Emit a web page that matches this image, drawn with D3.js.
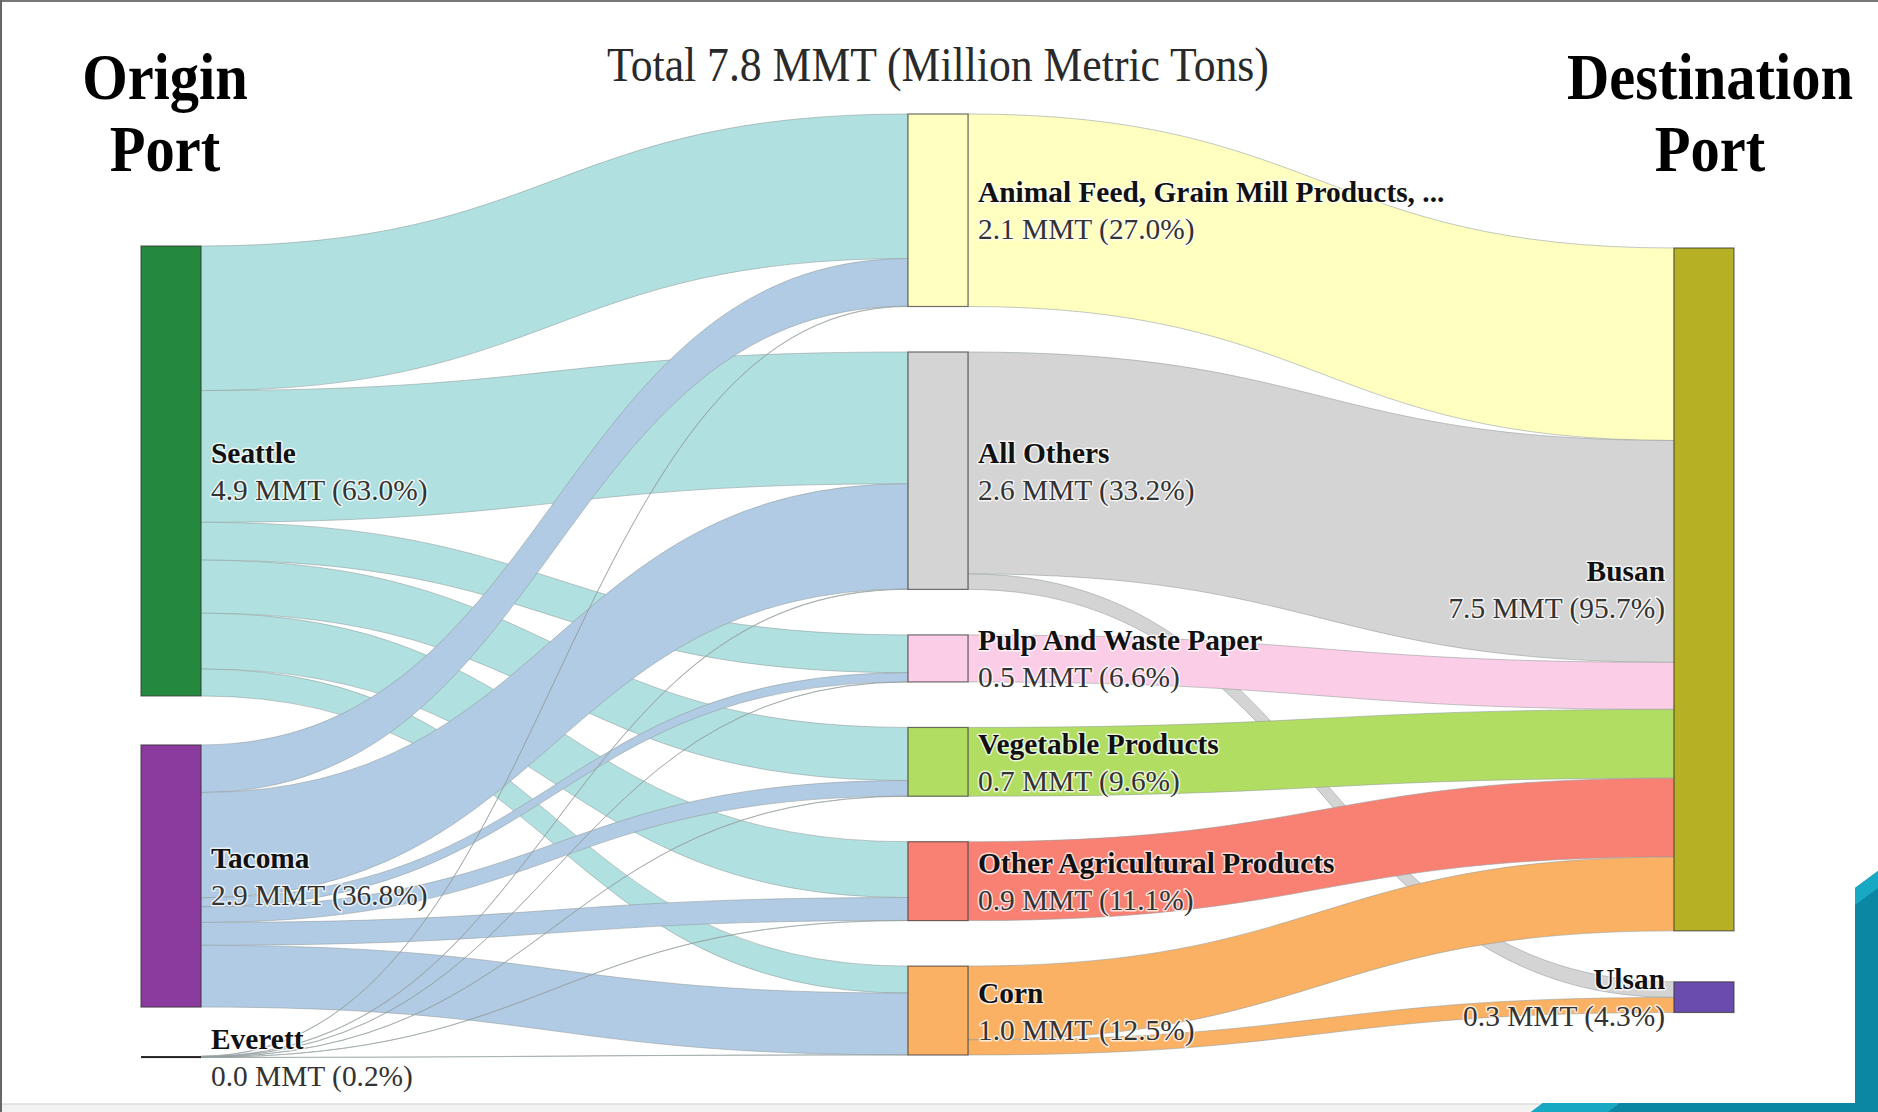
<!DOCTYPE html>
<html>
<head>
<meta charset="utf-8">
<script src="https://cdn.jsdelivr.net/npm/d3@7"></script>
<style>
  body { margin: 0; background: #fff; }
  svg { display: block; }
</style>
</head>
<body>
<div id="chart"></div>
<script>
// ---- data (MMT = million metric tons) ----
const origins = ["Seattle", "Tacoma", "Everett"];
const products = ["Animal Feed, Grain Mill Products, ...", "All Others", "Pulp And Waste Paper",
                  "Vegetable Products", "Other Agricultural Products", "Corn"];
const destinations = ["Busan", "Ulsan"];

// origin -> product flows, same order as products
const seattleFlows = [1.58, 1.44, 0.413, 0.58, 0.61, 0.295];
const tacomaFlows  = [0.52, 1.15, 0.10, 0.17, 0.25, 0.675];
const everettFlows = [0.004, 0.005, 0.001, 0.002, 0.002, 0.0016];

// product -> destination flows
const toBusan = [2.104, 2.425, 0.514, 0.752, 0.862, 0.8066];
const toUlsan = [0, 0.17, 0, 0, 0, 0.165];

// numbers printed on the labels
const originMMT = [4.9, 2.9, 0.0];
const originPct = [63.0, 36.8, 0.2];
const productMMT = [2.1, 2.6, 0.5, 0.7, 0.9, 1.0];
const productPct = [27.0, 33.2, 6.6, 9.6, 11.1, 12.5];
const destMMT = [7.5, 0.3];
const destPct = [95.7, 4.3];
const totalMMT = 7.8;

// ---- styles ----
const originColors = ["#24893f", "#8a3b9d", "#222222"];
const originLinkColors = ["#b0e0e0", "#b1cbe4", "#d0d0d0"];
const productColors = ["#ffffc0", "#d4d4d4", "#fccde6", "#b2dd63", "#f98174", "#fbb163"];
const destColors = ["#b5b024", "#6a4cae"];

const W = 1878, H = 1112;
const nodeW = 60;
const colX = [141, 908, 1674];
const colTop = [246, 114, 248];
const colGap = [49, 45.5, 51];
const midBottom = 1055;

const svg = d3.select("#chart")
    .append("svg")
    .attr("width", W)
    .attr("height", H);

svg.append("rect").attr("width", W).attr("height", H).attr("fill", "#fff");

// build nodes
const nodes = [];
origins.forEach((n, i) => nodes.push({ name: n, col: 0, color: originColors[i], mmt: originMMT[i], pct: originPct[i], linkColor: originLinkColors[i] }));
products.forEach((n, i) => nodes.push({ name: n, col: 1, color: productColors[i], mmt: productMMT[i], pct: productPct[i], linkColor: productColors[i] }));
destinations.forEach((n, i) => nodes.push({ name: n, col: 2, color: destColors[i], mmt: destMMT[i], pct: destPct[i] }));
nodes.forEach(n => { n.sourceLinks = []; n.targetLinks = []; });

const links = [];
function addLink(s, t, v) {
    if (v <= 0) return;
    const l = { source: s, target: t, value: v };
    s.sourceLinks.push(l);
    t.targetLinks.push(l);
    links.push(l);
}
const flowRows = [seattleFlows, tacomaFlows, everettFlows];
flowRows.forEach((row, i) => row.forEach((v, j) => addLink(nodes[i], nodes[3 + j], v)));
// links leaving each product, drawn in product order
products.forEach((p, j) => {
    addLink(nodes[3 + j], nodes[9], toBusan[j]);
    addLink(nodes[3 + j], nodes[10], toUlsan[j]);
});

nodes.forEach(n => {
    n.value = Math.max(d3.sum(n.sourceLinks, l => l.value), d3.sum(n.targetLinks, l => l.value));
});

// vertical scale taken from the middle column, which fills the height
const midNodes = nodes.filter(n => n.col === 1);
const midSum = d3.sum(midNodes, n => n.value);
const hScale = d3.scaleLinear()
    .domain([0, midSum])
    .range([0, (midBottom - colTop[1]) - colGap[1] * (midNodes.length - 1)]);

[0, 1, 2].forEach(c => {
    let y = colTop[c];
    nodes.filter(n => n.col === c).forEach(n => {
        n.x0 = colX[c];
        n.x1 = colX[c] + nodeW;
        n.y0 = y;
        n.y1 = y + hScale(n.value);
        y = n.y1 + colGap[c];
    });
});

// link offsets inside each node
nodes.forEach(n => {
    let sy = n.y0;
    n.sourceLinks.slice().sort((a, b) => a.target.y0 - b.target.y0).forEach(l => {
        l.sy0 = sy; sy += hScale(l.value); l.sy1 = sy;
    });
    let ty = n.y0;
    n.targetLinks.slice().sort((a, b) => a.source.y0 - b.source.y0).forEach(l => {
        l.ty0 = ty; ty += hScale(l.value); l.ty1 = ty;
    });
});

function band(l) {
    const x0 = l.source.x1, x1 = l.target.x0, xm = (x0 + x1) / 2;
    const p = d3.path();
    p.moveTo(x0, l.sy0);
    p.bezierCurveTo(xm, l.sy0, xm, l.ty0, x1, l.ty0);
    p.lineTo(x1, l.ty1);
    p.bezierCurveTo(xm, l.ty1, xm, l.sy1, x0, l.sy1);
    p.closePath();
    return p.toString();
}

// links
svg.append("g")
    .selectAll("path")
    .data(links)
    .join("path")
    .attr("d", band)
    .attr("fill", d => d.source.linkColor)
    .attr("stroke", "#8f9a9a")
    .attr("stroke-opacity", 0.55)
    .attr("stroke-width", 1);

// nodes
svg.append("g")
    .selectAll("rect")
    .data(nodes)
    .join("rect")
    .attr("x", d => d.x0)
    .attr("y", d => d.y0)
    .attr("width", nodeW)
    .attr("height", d => Math.max(2, d.y1 - d.y0))
    .attr("fill", d => d.color)
    .attr("stroke", "#333")
    .attr("stroke-opacity", 0.7)
    .attr("stroke-width", d => d.col === 0 && d.value < 0.1 ? 0 : 1.2);

// text helper, glyphs are a little condensed in the original
const serif = "'Liberation Serif', 'Times New Roman', serif";
function addText(x, y, txt, size, weight, anchor, fill, sx, halo) {
    const t = svg.append("text")
        .attr("transform", `translate(${x},${y}) scale(${sx},1)`)
        .attr("text-anchor", anchor)
        .style("font-family", serif)
        .style("font-size", size + "px")
        .style("font-weight", weight)
        .attr("fill", fill)
        .text(txt);
    if (halo) {
        t.style("paint-order", "stroke")
         .attr("stroke", "#fff")
         .attr("stroke-opacity", 0.75)
         .attr("stroke-width", 3)
         .attr("stroke-linejoin", "round");
    }
}

const fmt = d3.format(".1f");
nodes.forEach(n => {
    const cy = (n.y0 + n.y1) / 2;
    const right = n.col < 2;
    const x = right ? n.x1 + 10 : n.x0 - 9;
    const anchor = right ? "start" : "end";
    addText(x, cy - 8, n.name, 30, "bold", anchor, "#111", 0.98, true);
    addText(x, cy + 29, `${fmt(n.mmt)} MMT (${fmt(n.pct)}%)`, 30, "normal", anchor, "#333", 0.98, true);
});

// headings
const midX = colX[1] + nodeW / 2;
addText(midX, 81, `Total ${fmt(totalMMT)} MMT (Million Metric Tons)`, 48, "normal", "middle", "#2a2a2a", 0.91, false);
addText(165, 99, "Origin", 65, "bold", "middle", "#000", 0.9, false);
addText(165, 171, "Port", 65, "bold", "middle", "#000", 0.9, false);
addText(1710, 99, "Destination", 65, "bold", "middle", "#000", 0.9, false);
addText(1710, 171, "Port", 65, "bold", "middle", "#000", 0.9, false);

// slide frame and decoration
const deco = svg.append("g");
deco.append("rect").attr("x", 0).attr("y", 1104).attr("width", W).attr("height", 8).attr("fill", "#f2f2f2");
deco.append("line").attr("x1", 0).attr("x2", W).attr("y1", 1104).attr("y2", 1104).attr("stroke", "#cfcfcf");
deco.append("line").attr("x1", 0).attr("x2", W).attr("y1", 1).attr("y2", 1).attr("stroke", "#777").attr("stroke-width", 2);
deco.append("line").attr("x1", 1).attr("x2", 1).attr("y1", 0).attr("y2", H).attr("stroke", "#666").attr("stroke-width", 2);
deco.append("polygon").attr("points", "1531,1112 1543,1103 1878,1103 1878,1112").attr("fill", "#0b87a3");
deco.append("polygon").attr("points", "1531,1112 1543,1103 1620,1103 1608,1112").attr("fill", "#17a8c3");
deco.append("polygon").attr("points", "1855,888 1878,871 1878,1112 1855,1112").attr("fill", "#0b87a3");
deco.append("polygon").attr("points", "1855,888 1878,871 1878,888 1855,905").attr("fill", "#17a8c3");
</script>
</body>
</html>
